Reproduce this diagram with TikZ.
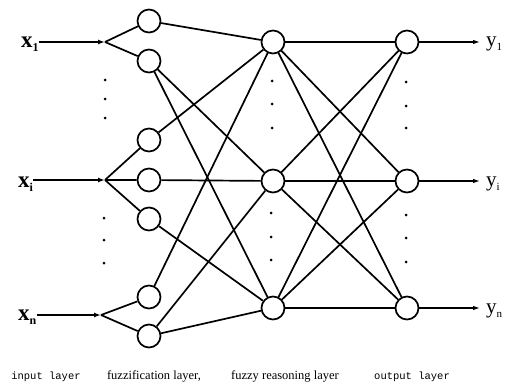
\documentclass[tikz,border=0pt]{standalone}
\usepackage{fontspec}
\setmainfont{Liberation Serif}
\setmonofont{Liberation Mono}
\usetikzlibrary{arrows.meta}
\newcommand\xlab[2]{{\fontsize{23}{23}\selectfont\bfseries #1}\raisebox{-4pt}{\fontsize{12}{12}\selectfont\bfseries #2}}
\newcommand\ylab[2]{{\fontsize{21}{21}\selectfont #1}\raisebox{-4pt}{\fontsize{11}{11}\selectfont #2}}
\begin{document}
\begin{tikzpicture}[x=1pt,y=-1pt,
  neuron/.style={draw, circle, line width=1.7pt, minimum size=23pt, inner sep=0pt},
  conn/.style={line width=1.7pt},
  inarrow/.style={line width=2pt, -{Latex[length=7pt,width=5pt]}},
  outarrow/.style={line width=1.2pt, -{Latex[length=7pt,width=4.5pt]}},
  dotm/.style={circle, fill, inner sep=0pt, minimum size=3pt},
  lab/.style={inner sep=0pt, anchor=base west},
  lay/.style={inner sep=0pt, anchor=base}]
\useasboundingbox (0,0) rectangle (505,385);

% fuzzification layer
\node[neuron] (A1) at (149,21) {};
\node[neuron] (A2) at (149,61) {};
\node[neuron] (B1) at (149,140) {};
\node[neuron] (B2) at (149,180) {};
\node[neuron] (B3) at (149,219) {};
\node[neuron] (C1) at (149,297) {};
\node[neuron] (C2) at (149,336) {};
% reasoning layer
\node[neuron] (R1) at (273,42) {};
\node[neuron] (R2) at (273,181) {};
\node[neuron] (R3) at (273,308) {};
% output layer
\node[neuron] (O1) at (407,42) {};
\node[neuron] (O2) at (407,181) {};
\node[neuron] (O3) at (407,308) {};

% branch points
\coordinate (J1) at (105,42);
\coordinate (J2) at (105,180);
\coordinate (J3) at (101,315);

% input labels
\node[lab] (x1) at (21,48) {\xlab{x}{1}};
\node[lab] (xi) at (18,187) {\xlab{x}{i}};
\node[lab] (xn) at (18,320) {\xlab{x}{n}};

\draw[inarrow] (x1.east |- J1) -- (J1);
\draw[inarrow] (xi.east |- J2) -- (J2);
\draw[inarrow] (xn.east |- J3) -- (J3);

\draw[conn] (J1) -- (A1) (J1) -- (A2);
\draw[conn] (J2) -- (B1) (J2) -- (B2) (J2) -- (B3);
\draw[conn] (J3) -- (C1) (J3) -- (C2);

% fuzzification -> reasoning
\draw[conn] (A1) -- (R1);
\draw[conn] (B1) -- (R1);
\draw[conn] (C1) -- (R1);
\draw[conn] (A2) -- (R2);
\draw[conn] (B2) -- (R2);
\draw[conn] (C2) -- (R2);
\draw[conn] (A2) -- (R3);
\draw[conn] (B3) -- (R3);
\draw[conn] (C2) -- (R3);

% reasoning -> output
\foreach \r in {R1,R2,R3}{
  \foreach \o in {O1,O2,O3}{
    \draw[conn] (\r) -- (\o);
  }
}

% output labels
\node[lab] (y1) at (486,47) {\ylab{y}{1}};
\node[lab] (yi) at (486,186) {\ylab{y}{i}};
\node[lab] (yn) at (486,313) {\ylab{y}{n}};
\draw[outarrow] (O1) -- ([xshift=-6pt]y1.west |- O1);
\draw[outarrow] (O2) -- ([xshift=-6pt]yi.west |- O2);
\draw[outarrow] (O3) -- ([xshift=-6pt]yn.west |- O3);

% dots
\node[dotm] (p1) at (105,80) {};
\node[dotm] (p2) at (105,99) {};
\node[dotm] (p3) at (105,118) {};
\node[dotm] (p4) at (104,218) {};
\node[dotm] (p5) at (104,240) {};
\node[dotm] (p6) at (104,263) {};
\node[dotm] (q1) at (272,81) {};
\node[dotm] (q2) at (272,104) {};
\node[dotm] (q3) at (272,128) {};
\node[dotm] (q4) at (271,213) {};
\node[dotm] (q5) at (271,237) {};
\node[dotm] (q6) at (271,260) {};
\node[dotm] (r1) at (406,82) {};
\node[dotm] (r2) at (406,106) {};
\node[dotm] (r3) at (406,128) {};
\node[dotm] (r4) at (406,215) {};
\node[dotm] (r5) at (406,238) {};
\node[dotm] (r6) at (406,262) {};

% layer names
\node[lay] (L1) at (46,379) {\fontsize{10.5}{12}\selectfont\ttfamily input layer};
\node[lay] (L2) at (154,379) {\fontsize{12.5}{14}\selectfont fuzzification layer,};
\node[lay] (L3) at (285,379) {\fontsize{12.5}{14}\selectfont fuzzy reasoning layer};
\node[lay] (L4) at (412,379) {\fontsize{10.5}{12}\selectfont\ttfamily output layer};
\end{tikzpicture}
\end{document}
